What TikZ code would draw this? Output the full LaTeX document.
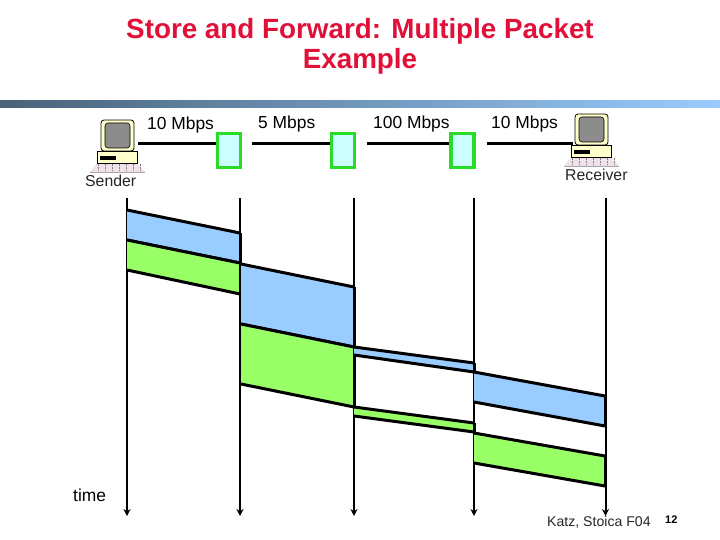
\documentclass[tikz,border=0pt]{standalone}
\usepackage{fontspec}
\setmainfont{Liberation Sans}
\usetikzlibrary{arrows.meta}

\begin{document}
\begin{tikzpicture}[
    x=1pt, y=-1pt,
    % Estilos de enlaces, paquetes y routers
    link line/.style={line width=3pt, black},
    time line/.style={line width=2pt, black, -{Stealth[length=7pt,width=7pt]}},
    packet/.style={draw=black, line width=3pt, line join=miter},
    router/.style={draw=routergreen, fill=routercyan, line width=3.2pt, inner sep=0pt,
        minimum width=23pt, minimum height=34pt},
    rate label/.style={font=\fontsize{17.4}{20}\selectfont, inner sep=0pt},
    small label/.style={font=\fontsize{15.8}{18}\selectfont, text=black!85, inner sep=0pt}
]
    % Colores
    \definecolor{titlered}{RGB}{224, 16, 56}
    \definecolor{routergreen}{RGB}{40, 220, 40}
    \definecolor{routercyan}{RGB}{204, 255, 255}
    \definecolor{packetblue}{RGB}{153, 204, 255}
    \definecolor{packetgreen}{RGB}{153, 255, 102}
    \definecolor{barleft}{RGB}{72, 98, 120}
    \definecolor{barright}{RGB}{153, 204, 255}
    \definecolor{monitorcream}{RGB}{255, 255, 204}
    \definecolor{keypink}{RGB}{240, 225, 235}

    \useasboundingbox (0,0) rectangle (720,540);
    \fill[white] (0,0) rectangle (720,540);

    % Título
    \node [font=\fontsize{27.8}{30}\selectfont\bfseries, text=titlered, align=center, inner sep=0pt] (title) at (360,46)
        {Store and Forward: Multiple Packet\\[0pt]Example};

    % Barra degradada
    \shade[left color=barleft, right color=barright] (0,101) rectangle (720,108);

    % Ordenadores: {nombre / desplazamiento x / desplazamiento y}
    \foreach \name/\dx/\dy in {sender/0/0, receiver/474/-6}{
        \begin{scope}[shift={(\dx,\dy)}]
            \fill[keypink] (97,163) -- (137,163) -- (145,172) -- (90,172) -- cycle;
            \foreach \kx in {98,105,...,140}
                \draw[black!50, densely dotted] (\kx,164) -- (\kx,171);
            \draw[black!35, thin] (90,172) -- (145,172);
            \draw[black, fill=monitorcream, rounded corners=3pt, line width=0.8pt] (101,120) rectangle (134,151);
            \draw[black, fill=black!45, rounded corners=3pt, line width=0.6pt] (105,123) rectangle (130,148);
            \draw[black, fill=monitorcream, line width=0.8pt] (97,151) rectangle (137,163);
            \fill[black] (100,156) rectangle (116,160);
            \coordinate (\name) at (137,144);
        \end{scope}
    }

    % Routers
    \node [router] (r1) at (229,150.5) {};
    \node [router] (r2) at (343,150.5) {};
    \node [router] (r3) at (462.5,150.5) {};

    % Enlaces
    \coordinate (l1) at (138,144);
    \coordinate (l2) at (252,144);
    \coordinate (l3) at (367,144);
    \coordinate (l4) at (487,144);
    \coordinate (l5) at (573,144);
    \draw[link line] (l1) -- (l1 -| r1.west);
    \draw[link line] (l2) -- (l2 -| r2.west);
    \draw[link line] (l3) -- (l3 -| r3.west);
    \draw[link line] (l4) -- (l5);

    % Etiquetas
    \node [rate label, anchor=west] (rate1) at (147,125.5) {10 Mbps};
    \node [rate label, anchor=west] (rate2) at (258,124.5) {5 Mbps};
    \node [rate label, anchor=west] (rate3) at (373,124.5) {100 Mbps};
    \node [rate label, anchor=west] (rate4) at (491,124.5) {10 Mbps};
    \node [small label, anchor=west] (sendername) at (85,180.5) {Sender};
    \node [small label, anchor=west] (receivername) at (565,175) {Receiver};
    \node [rate label, anchor=west] (timename) at (73,495.5) {time};
    \node [small label, anchor=west, font=\fontsize{14.1}{16}\selectfont] (credit) at (547,522.5) {Katz, Stoica F04};
    \node [font=\fontsize{11}{13}\selectfont\bfseries, anchor=west, inner sep=0pt] (pagenum) at (665,520) {12};

    % Líneas de tiempo
    \foreach \tname/\tx in {t1/127, t2/240, t3/354, t4/474, t5/605.5}{
        \coordinate (\tname top) at (\tx,198);
        \coordinate (\tname end) at (\tx,516);
        \draw[time line] (\tname top) -- (\tname end);
    }

    % Paquetes: {x0 / x1 / arriba izq. / arriba der. / abajo izq. / abajo der. / color}
    \foreach \xa/\xb/\ta/\tb/\ba/\bb/\col in {
        127/240/210/233/240/263/packetblue,
        127/240/240/263/270/294/packetgreen,
        241/354/264/287/324/347/packetblue,
        241/354/324/347/384/407/packetgreen,
        354/474/347/363/355/372/packetblue,
        354/474/407/423/416/432/packetgreen,
        474/605/372/396/402/426/packetblue,
        474/605/433/456/463/486/packetgreen}{
        \fill[\col] (\xa,\ta) -- (\xb,\tb) -- (\xb,\bb) -- (\xa,\ba) -- cycle;
        \draw[packet] (\xa,\ta) -- (\xb,\tb);
        \draw[packet] (\xa,\ba) -- (\xb,\bb);
        \draw[packet] (\xb,\tb) -- (\xb,\bb);
    }
\end{tikzpicture}
\end{document}
